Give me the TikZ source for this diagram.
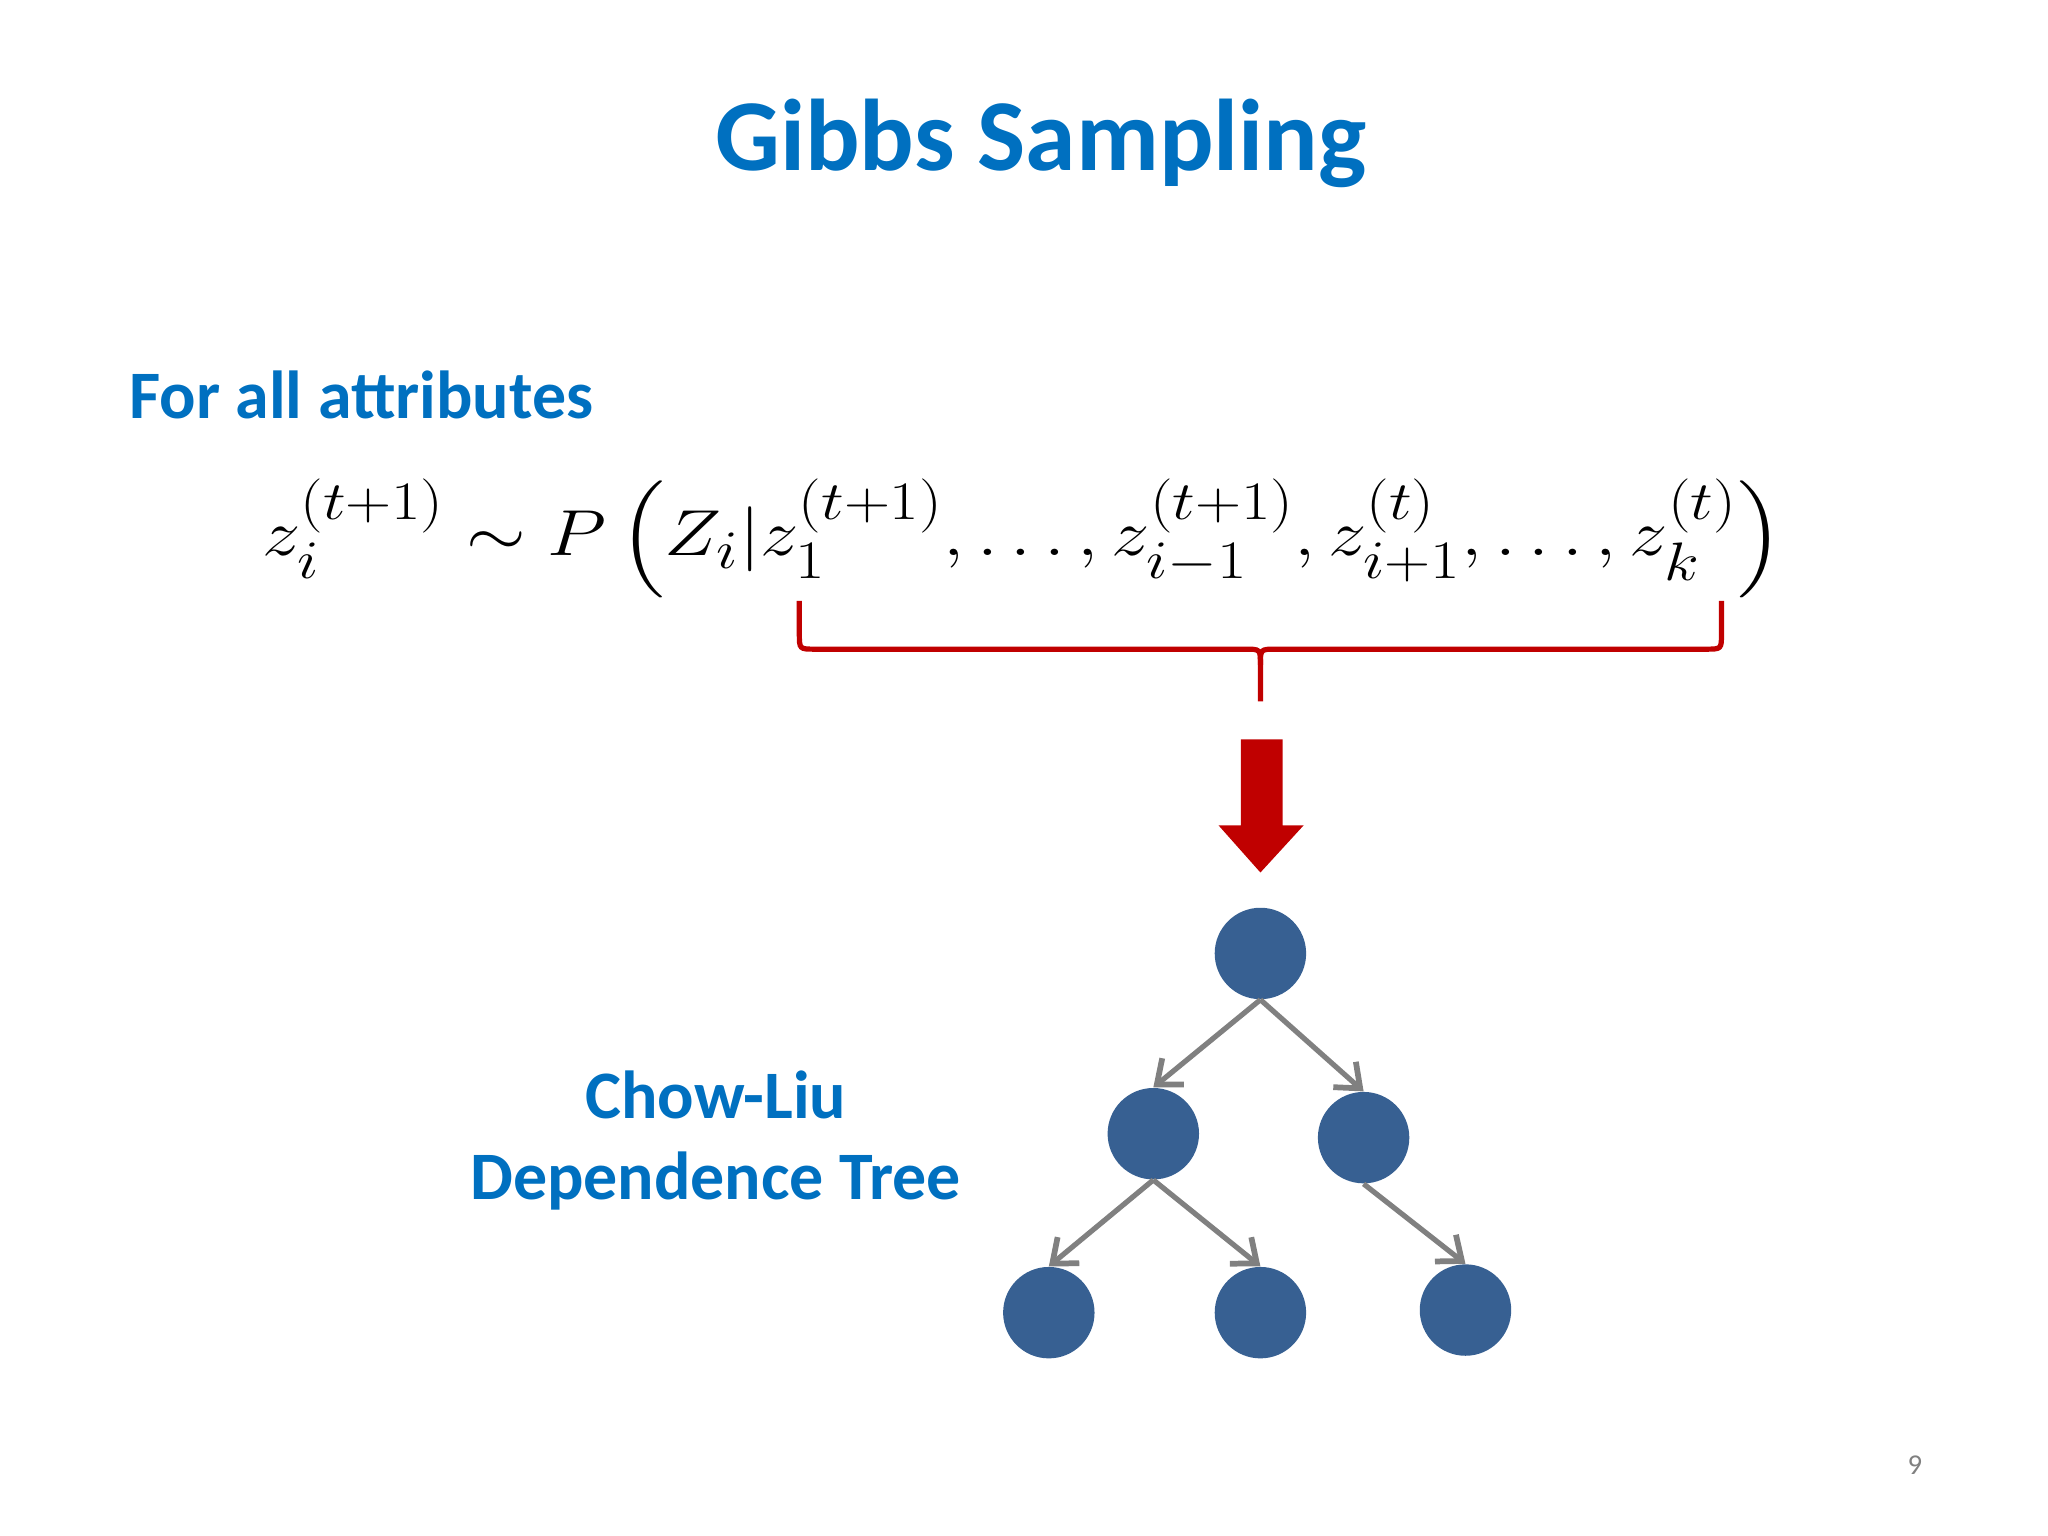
\documentclass[tikz,border=0pt]{standalone}
\usepackage{fontspec}
\setmainfont{Carlito}
\usepackage{amsmath}
\usepackage{graphicx}
\usetikzlibrary{arrows.meta}
\definecolor{tblue}{RGB}{0,112,192}
\definecolor{dred}{RGB}{192,0,0}
\definecolor{nblue}{RGB}{55,96,146}
\definecolor{agray}{RGB}{128,128,128}
\tikzset{
 ttl/.style={text=tblue,font=\bfseries},
 tnode/.style={circle,fill=nblue,minimum size=35pt,inner sep=0pt},
 tedge/.style={draw=agray,line width=2pt,-{Straight Barb[length=8pt,width=13pt,line width=2.2pt]}}
}
\begin{document}
\begin{tikzpicture}[x=0.5pt,y=-0.5pt]
\useasboundingbox (0,0) rectangle (1568,1176);
\node[ttl,font=\fontsize{39}{44}\bfseries\selectfont] (title) at (797,110) {Gibbs Sampling};
\node[ttl,font=\fontsize{26}{30}\bfseries\selectfont,anchor=west] (for) at (92,302) {For all attributes};
\node (eq) at (783,412) {\scalebox{1.18}[1]{\fontsize{32.5}{38}\selectfont$\displaystyle z_i^{(t+1)} \sim P\left(Z_i| z_1^{(t+1)},\ldots,z_{i-1}^{(t+1)},z_{i+1}^{(t)},\ldots,z_k^{(t)}\right)$}};
\draw[dred,line width=2pt] (612,460) -- (612,485) .. controls (612,497) .. (624,497) -- (953,497) .. controls (965,497) .. (965,509) -- (965,537);
\draw[dred,line width=2pt] (1318,460) -- (1318,485) .. controls (1318,497) .. (1306,497) -- (977,497) .. controls (965,497) .. (965,509);
\fill[dred] (950,566) -- (982,566) -- (982,632) -- (998,632) -- (965,668) -- (933,632) -- (950,632) -- cycle;
\node[tnode] (r) at (965,730) {};
\node[tnode] (a) at (883,868) {};
\node[tnode] (b) at (1044,871) {};
\node[tnode] (c) at (803,1005) {};
\node[tnode] (d) at (965,1005) {};
\node[tnode] (e) at (1122,1003) {};
\draw[tedge] (r.south) -- (a.north);
\draw[tedge] (r.south) -- (b.north);
\draw[tedge] (a.south) -- (c.north);
\draw[tedge] (a.south) -- (d.north);
\draw[tedge] (b.south) -- (e.north);
\node[ttl,font=\fontsize{26}{31}\bfseries\selectfont,align=center] (cl) at (548,873) {Chow-Liu\\Dependence Tree};
\node[text=agray,font=\fontsize{11}{13}\selectfont] (pg) at (1466,1122) {9};
\end{tikzpicture}
\end{document}
